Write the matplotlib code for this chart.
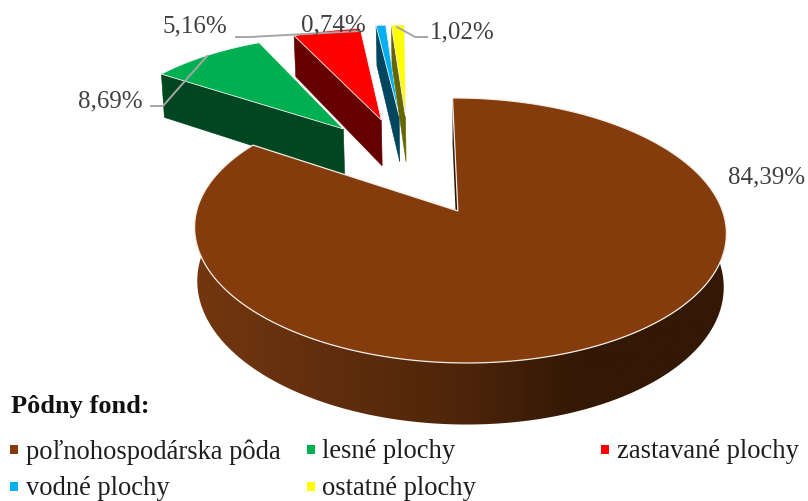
import matplotlib
matplotlib.use('Agg')
import matplotlib.pyplot as plt
from matplotlib.colors import LinearSegmentedColormap
from matplotlib.patches import Polygon, Rectangle
import numpy as np

categories = ['poľnohospodárska pôda', 'lesné plochy', 'zastavané plochy', 'vodné plochy', 'ostatné plochy']
values = [84.39, 8.69, 5.16, 0.74, 1.02]
labels = ['84,39%', '8,69%', '5,16%', '0,74%', '1,02%']
colors = ['#843C0C', '#00B050', '#FF0000', '#00B0F0', '#FFFF00']
wall_colors = ['#2E1504', '#004620', '#660000', '#00465F', '#666600']

# posuniecie vysekov v rovine kolaca (u, v)
offsets = [(0.0, 0.0), (-0.490, 0.685), (-0.335, 0.773), (-0.261, 0.812), (-0.234, 0.812)]
apex_shift = -0.010

# projekcia kolaca
cx, cy = 460.5, 212.0
b, a, k = 263.0, 129.6, 0.147
depth = 51.0
main_depth = 52.5
rot = -2.0
tilt = 0.012


def project(u, v, h=None):
    d = 1 + k * v
    x = b * u / d
    y = a * v / d
    py = cy - y + tilt * x
    if h is not None:
        return cx + x * 0.99, py + h / d
    return cx + x, py


def wedge(start, end, off):
    t = np.radians(np.linspace(start, end, max(3, int(end - start) * 2)) + rot)
    u = off[0] + np.sin(t)
    v = off[1] + np.cos(t)
    return u, v


def face(u, v, h=None):
    x, y = project(np.asarray(u), np.asarray(v), h)
    return np.column_stack([x, y])


fig = plt.figure(figsize=(8.08, 5.02), dpi=100)
ax = fig.add_axes([0, 0, 1, 1])
ax.set_xlim(0, 808)
ax.set_ylim(502, 0)
ax.axis('off')

angles = np.cumsum([0] + values) * 3.6

# male vyseky odzadu dopredu
for i in [1, 2, 3, 4]:
    off = offsets[i]
    u, v = wedge(angles[i], angles[i + 1], off)
    # stena pri strede, pravy okraj vyseku
    wu = [off[0], u[0]]
    wv = [off[1], v[0]]
    top = face(wu, wv)
    low = face(wu, wv, depth)
    ax.add_patch(Polygon(np.vstack([top, low[::-1]]), closed=True, fc=wall_colors[i], ec=wall_colors[i], lw=0.4, zorder=2 + i))
    pts = face(np.r_[off[0], u], np.r_[off[1], v])
    ax.add_patch(Polygon(pts, closed=True, fc=colors[i], ec='#f2f2f2', lw=0.6, zorder=2.5 + i))

# velky vysek
off = offsets[0]
u, v = wedge(angles[0], angles[1], off)
top = face(u, v)
low = face(u, v, main_depth)
wu = [apex_shift, u[0]]
wv = [off[1], v[0]]
w_top = face(wu, wv)
w_low = face(wu, wv, main_depth)
ax.add_patch(Polygon(np.vstack([w_top, w_low[::-1]]), closed=True, fc=wall_colors[0], ec='none', zorder=10))

# vonkajsia stena s prechodom
shade = LinearSegmentedColormap.from_list('shade', [(0, '#733710'), (0.5, '#4E250A'), (0.72, '#331805'), (1, '#321805')])
front = np.vstack([top, low[::-1]])
wall = Polygon(front, closed=True, fc='none', ec='none', zorder=11)
ax.add_patch(wall)
im = ax.imshow(np.linspace(0, 1, 256).reshape(1, -1), cmap=shade, aspect='auto',
               extent=[195, 726, 440, 200], zorder=11)
im.set_clip_path(wall)
ax.set_xlim(0, 808)
ax.set_ylim(502, 0)

pts = np.vstack([face([apex_shift], [off[1]]), top])
ax.add_patch(Polygon(pts, closed=True, fc=colors[0], ec='#f4ece6', lw=0.9, zorder=12))

# odkazove ciary
leaders = [([151, 163, 207], [107, 107, 57]),
           ([236, 250, 360], [38, 38, 32]),
           ([427, 415, 397], [38, 38, 28])]
for lx, ly in leaders:
    ax.plot(lx, ly, color='#A6A6A6', lw=1.4, zorder=20)

serif = 'Liberation Serif'
label_pos = [(767, 177), (110, 101), (195, 26), (333, 25), (462, 32)]
for t, (x, y) in zip(labels, label_pos):
    ax.text(x, y, t, family=serif, fontsize=18, color='#404040', ha='center', va='center', zorder=21)

ax.text(11, 407, 'Pôdny fond:', family=serif, fontsize=19, fontweight='bold', color='#111111', va='center')

marker_x = [10, 307, 601, 10, 307]
text_x = [26, 322, 617, 26, 322]
legend_y = [452, 452, 452, 489, 489]
for name, c, mx, tx, y in zip(categories, colors, marker_x, text_x, legend_y):
    ax.add_patch(Rectangle((mx, y - 6), 8, 9, fc=c, ec='none'))
    ax.text(tx, y, name, family=serif, fontsize=19.1, color='#1E1E1E', va='center')

fig.savefig('out.png', dpi=100)
